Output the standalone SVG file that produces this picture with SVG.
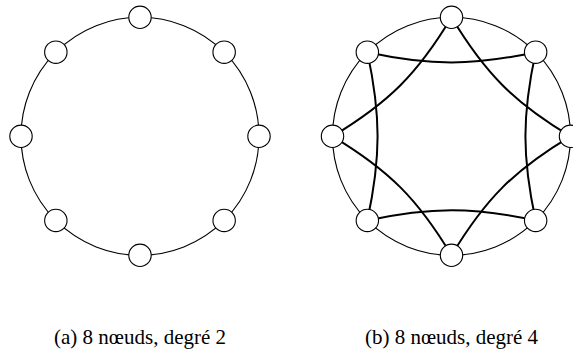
<svg xmlns="http://www.w3.org/2000/svg" width="573" height="356" viewBox="0 0 573 356">
<style>
.ring{fill:none;stroke:#000;stroke-width:1.1}
.edge{fill:none;stroke:#000;stroke-width:2}
.node{fill:#fff;stroke:#000;stroke-width:1.1}
.cap{font-family:"Liberation Serif",serif;font-size:21px;fill:#000;text-anchor:middle}
</style>
<defs>
<circle id="n" r="11.2" class="node"/>
</defs>
<g id="graph-a" transform="translate(140,136.3)">
<g id="connectors-a">
<circle class="ring" cx="0" cy="0" r="119"/>
</g>
<g id="a0"><use href="#n" x="0" y="-119"/></g>
<g id="a1"><use href="#n" x="84.15" y="-84.15"/></g>
<g id="a2"><use href="#n" x="119" y="0"/></g>
<g id="a3"><use href="#n" x="84.15" y="84.15"/></g>
<g id="a4"><use href="#n" x="0" y="119"/></g>
<g id="a5"><use href="#n" x="-84.15" y="84.15"/></g>
<g id="a6"><use href="#n" x="-119" y="0"/></g>
<g id="a7"><use href="#n" x="-84.15" y="-84.15"/></g>
</g>
<g id="graph-b" transform="translate(451.5,136.3)">
<g id="connectors-b">
<circle class="ring" cx="0" cy="0" r="119"/>
<path class="edge" d="M-84.15,-84.15 C-21,-70.5 21,-70.5 84.15,-84.15"/>
<path class="edge" d="M84.15,-84.15 C70.5,-21 70.5,21 84.15,84.15"/>
<path class="edge" d="M84.15,84.15 C21,70.5 -21,70.5 -84.15,84.15"/>
<path class="edge" d="M-84.15,84.15 C-70.5,21 -70.5,-21 -84.15,-84.15"/>
<path class="edge" d="M0,-119 C33.94,-62.52 62.52,-33.94 119,0"/>
<path class="edge" d="M119,0 C62.52,33.94 33.94,62.52 0,119"/>
<path class="edge" d="M0,119 C-33.94,62.52 -62.52,33.94 -119,0"/>
<path class="edge" d="M-119,0 C-62.52,-33.94 -33.94,-62.52 0,-119"/>
</g>
<g id="b0"><use href="#n" x="0" y="-119"/></g>
<g id="b1"><use href="#n" x="84.15" y="-84.15"/></g>
<g id="b2"><use href="#n" x="119" y="0"/></g>
<g id="b3"><use href="#n" x="84.15" y="84.15"/></g>
<g id="b4"><use href="#n" x="0" y="119"/></g>
<g id="b5"><use href="#n" x="-84.15" y="84.15"/></g>
<g id="b6"><use href="#n" x="-119" y="0"/></g>
<g id="b7"><use href="#n" x="-84.15" y="-84.15"/></g>
</g>
<text class="cap" x="140" y="344">(a) 8 nœuds, degré 2</text>
<text class="cap" x="451.5" y="344">(b) 8 nœuds, degré 4</text>
</svg>
